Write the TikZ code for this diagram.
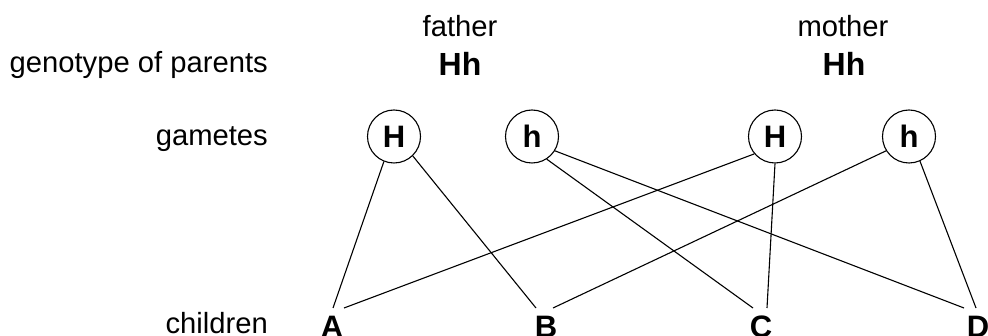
\documentclass[tikz,border=0pt]{standalone}
\usepackage{fontspec}
\setmainfont{Liberation Sans}
\begin{document}
\begin{tikzpicture}[x=1pt,y=-1pt,
  lbl/.style={inner sep=0pt, anchor=base, font=\fontsize{29.2}{31}\selectfont},
  rlbl/.style={lbl, anchor=base east},
  geno/.style={inner sep=0pt, anchor=base, font=\fontsize{32}{34}\selectfont\bfseries},
  gamete/.style={circle, draw, line width=1.1pt, minimum size=53pt, inner sep=0pt, font=\fontsize{31}{32}\selectfont\bfseries},
  child/.style={inner sep=0pt, anchor=base, font=\fontsize{31}{33}\selectfont\bfseries},
  link/.style={line width=1.1pt}]
\useasboundingbox (0,0) rectangle (988,336);
% row labels
\node[rlbl] (lgeno) at (268,73) {genotype of parents};
\node[rlbl] (lgam) at (268,146) {gametes};
\node[rlbl] (lchild) at (268,334) {children};
% parents
\node[lbl] (father) at (460,37) {father};
\node[geno] (fgeno) at (460,76) {Hh};
\node[lbl] (mother) at (843,37) {mother};
\node[geno] (mgeno) at (844,76) {Hh};
% gametes
\node[gamete] (H1) at (394,136.5) {H};
\node[gamete] (h1) at (532,136.5) {h};
\node[gamete] (H2) at (775,136.5) {H};
\node[gamete] (h2) at (909,136.5) {h};
% children
\node[child] (A) at (332,338) {A};
\node[child] (B) at (546,338) {B};
\node[child] (C) at (761,338) {C};
\node[child] (D) at (978,338) {D};
\coordinate (aL) at (333,308);
\coordinate (aR) at (344,308);
\coordinate (bL) at (536,308);
\coordinate (bR) at (553,308);
\coordinate (cL) at (753,308);
\coordinate (cR) at (767,308);
\coordinate (dL) at (964,308);
\coordinate (dR) at (976,308);
% connectors
\draw[link] (H1.-112) -- (aL);
\draw[link] (H1.-46) -- (bL);
\draw[link] (h1.-57) -- (cL);
\draw[link] (h1.-32) -- (dL);
\draw[link] (H2.-140) -- (aR);
\draw[link] (H2.-90) -- (cR);
\draw[link] (h2.-148) -- (bR);
\draw[link] (h2.-66) -- (dR);
\end{tikzpicture}
\end{document}
